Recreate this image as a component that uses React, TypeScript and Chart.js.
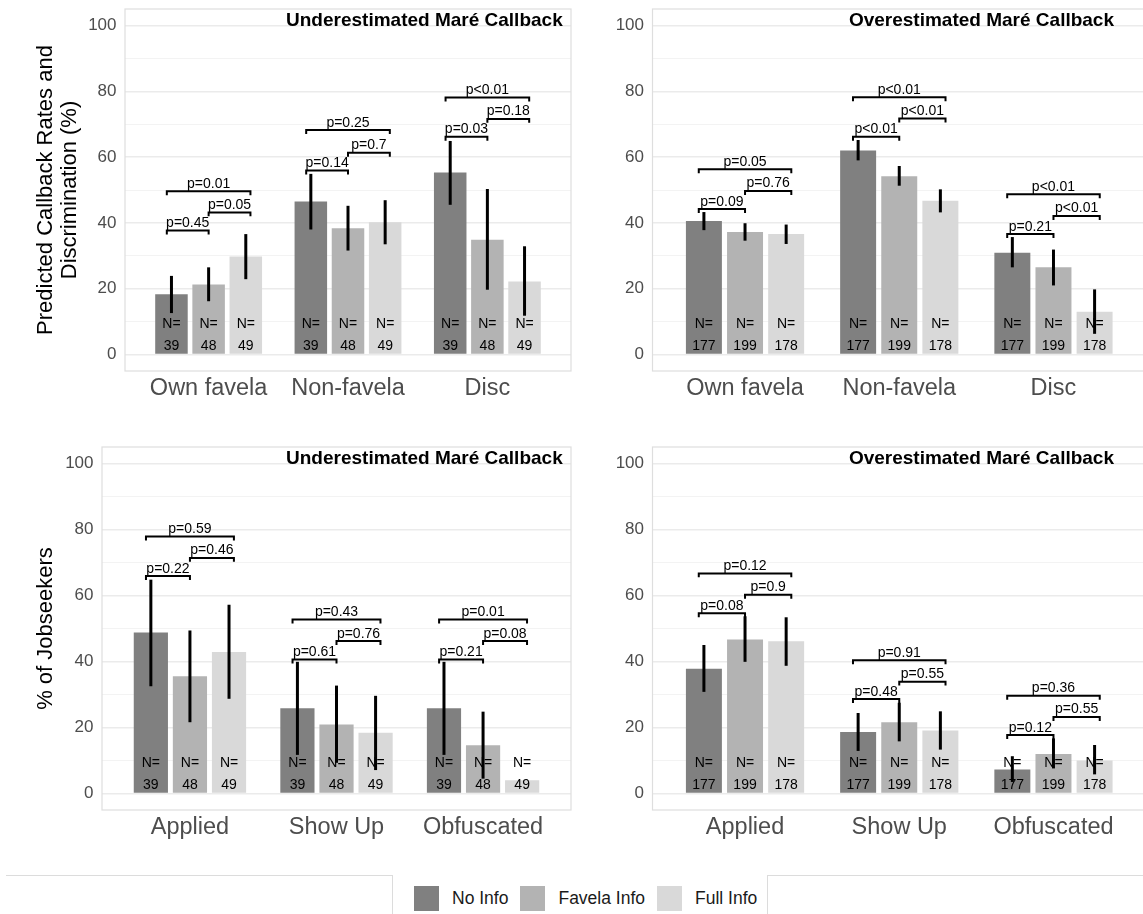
import React, { useEffect, useRef } from 'react';
import { Chart, registerables } from 'chart.js';

Chart.register(...registerables);

// ---------- shared data ----------
const SERIES = ['No Info', 'Favela Info', 'Full Info'];
const SERIES_COLORS = ['#808080', '#B3B3B3', '#D9D9D9'];
const CALLBACK_CATEGORIES = ['Own favela', 'Non-favela', 'Disc'];
const JOBSEEKER_CATEGORIES = ['Applied', 'Show Up', 'Obfuscated'];
const Y_GRID_VALUES = [0, 10, 20, 30, 40, 50, 60, 70, 80, 90, 100];
const Y_TICK_LABELS = [0, 20, 40, 60, 80, 100];
const BRACKET_PAIRS = [[0, 1], [1, 2], [0, 2]];
const UNDER_N = [39, 48, 49];
const OVER_N = [177, 199, 178];

// ---------- top-left: Underestimated, callback ----------
const UNDER_CALLBACK_MEAN = [
  [18.3, 46.5, 55.3],
  [21.3, 38.4, 34.9],
  [29.8, 40.2, 22.2],
];
const UNDER_CALLBACK_LOW = [
  [12.6, 38.0, 45.5],
  [16.2, 31.6, 19.7],
  [22.9, 33.5, 11.8],
];
const UNDER_CALLBACK_HIGH = [
  [23.9, 54.9, 64.9],
  [26.5, 45.2, 50.3],
  [36.6, 46.9, 32.9],
];
const UNDER_CALLBACK_P = [
  ['p=0.45', 'p=0.05', 'p=0.01'],
  ['p=0.14', 'p=0.7', 'p=0.25'],
  ['p=0.03', 'p=0.18', 'p<0.01'],
];
const UNDER_CALLBACK_P_Y = [
  [37.7, 43.2, 49.6],
  [55.9, 61.3, 68.2],
  [66.2, 71.6, 78.1],
];

// ---------- top-right: Overestimated, callback ----------
const OVER_CALLBACK_MEAN = [
  [40.6, 62.0, 30.9],
  [37.2, 54.2, 26.5],
  [36.6, 46.7, 13.0],
];
const OVER_CALLBACK_LOW = [
  [37.8, 59.0, 26.5],
  [34.6, 51.3, 21.0],
  [33.6, 43.2, 6.3],
];
const OVER_CALLBACK_HIGH = [
  [43.3, 65.2, 35.7],
  [39.9, 57.3, 31.9],
  [39.5, 50.2, 19.8],
];
const OVER_CALLBACK_P = [
  ['p=0.09', 'p=0.76', 'p=0.05'],
  ['p<0.01', 'p<0.01', 'p<0.01'],
  ['p=0.21', 'p<0.01', 'p<0.01'],
];
const OVER_CALLBACK_P_Y = [
  [44.2, 49.7, 56.3],
  [66.2, 71.7, 78.2],
  [36.6, 42.1, 48.7],
];

// ---------- bottom-left: Underestimated, jobseekers ----------
const UNDER_JOB_MEAN = [
  [48.8, 25.8, 25.8],
  [35.5, 20.9, 14.6],
  [42.9, 18.4, 4.0],
];
const UNDER_JOB_LOW = [
  [32.5, 11.7, 11.7],
  [21.6, 9.3, 4.5],
  [28.7, 7.1, null],
];
const UNDER_JOB_HIGH = [
  [64.8, 39.9, 39.9],
  [49.4, 32.7, 24.8],
  [57.2, 29.6, null],
];
const UNDER_JOB_P = [
  ['p=0.22', 'p=0.46', 'p=0.59'],
  ['p=0.61', 'p=0.76', 'p=0.43'],
  ['p=0.21', 'p=0.08', 'p=0.01'],
];
const UNDER_JOB_P_Y = [
  [65.9, 71.4, 77.9],
  [40.6, 46.2, 52.7],
  [40.6, 46.2, 52.7],
];

// ---------- bottom-right: Overestimated, jobseekers ----------
const OVER_JOB_MEAN = [
  [37.8, 18.6, 7.3],
  [46.7, 21.6, 12.0],
  [46.1, 19.1, 10.0],
];
const OVER_JOB_LOW = [
  [30.8, 12.9, 3.5],
  [39.9, 15.8, 7.6],
  [38.7, 13.3, 5.8],
];
const OVER_JOB_HIGH = [
  [45.0, 24.4, 11.3],
  [53.7, 27.5, 16.7],
  [53.4, 24.9, 14.7],
];
const OVER_JOB_P = [
  ['p=0.08', 'p=0.9', 'p=0.12'],
  ['p=0.48', 'p=0.55', 'p=0.91'],
  ['p=0.12', 'p=0.55', 'p=0.36'],
];
const OVER_JOB_P_Y = [
  [54.6, 60.2, 66.7],
  [28.6, 33.9, 40.4],
  [17.7, 23.2, 29.6],
];

// ---------- style constants ----------
const FONT = '"Liberation Sans", Arial, Helvetica, sans-serif';
const BRACKET_OFFSETS = [-0.3, 0, 0.3];
const BRACKET_TIP = 1.2;
const N_LABEL_Y = 9.1;
const N_VALUE_Y = 2.6;

type PanelDef = {
  cats: string[];
  mean: number[][];
  low: (number | null)[][];
  high: (number | null)[][];
  n: number[];
  pLabels: string[][];
  pY: number[][];
  title: string;
  titleRightOffset: number;
  yTitle: string[] | null;
  canvas: { left: number; top: number; width: number; height: number };
  area: { left: number; top: number; right: number; bottom: number };
};

const PANELS: PanelDef[] = [
  {
    cats: CALLBACK_CATEGORIES,
    mean: UNDER_CALLBACK_MEAN,
    low: UNDER_CALLBACK_LOW,
    high: UNDER_CALLBACK_HIGH,
    n: UNDER_N,
    pLabels: UNDER_CALLBACK_P,
    pY: UNDER_CALLBACK_P_Y,
    title: 'Underestimated Maré Callback',
    titleRightOffset: 8.3,
    yTitle: ['Predicted Callback Rates and', 'Discrimination (%)'],
    canvas: { left: 0, top: 0, width: 580, height: 420 },
    area: { left: 125, top: 9, right: 571, bottom: 371 },
  },
  {
    cats: CALLBACK_CATEGORIES,
    mean: OVER_CALLBACK_MEAN,
    low: OVER_CALLBACK_LOW,
    high: OVER_CALLBACK_HIGH,
    n: OVER_N,
    pLabels: OVER_CALLBACK_P,
    pY: OVER_CALLBACK_P_Y,
    title: 'Overestimated Maré Callback',
    titleRightOffset: 32,
    yTitle: null,
    canvas: { left: 580, top: 0, width: 575, height: 420 },
    area: { left: 652.5, top: 9, right: 1146, bottom: 371 },
  },
  {
    cats: JOBSEEKER_CATEGORIES,
    mean: UNDER_JOB_MEAN,
    low: UNDER_JOB_LOW,
    high: UNDER_JOB_HIGH,
    n: UNDER_N,
    pLabels: UNDER_JOB_P,
    pY: UNDER_JOB_P_Y,
    title: 'Underestimated Maré Callback',
    titleRightOffset: 8.3,
    yTitle: ['% of Jobseekers'],
    canvas: { left: 0, top: 430, width: 580, height: 420 },
    area: { left: 102, top: 447, right: 571, bottom: 810 },
  },
  {
    cats: JOBSEEKER_CATEGORIES,
    mean: OVER_JOB_MEAN,
    low: OVER_JOB_LOW,
    high: OVER_JOB_HIGH,
    n: OVER_N,
    pLabels: OVER_JOB_P,
    pY: OVER_JOB_P_Y,
    title: 'Overestimated Maré Callback',
    titleRightOffset: 32,
    yTitle: null,
    canvas: { left: 580, top: 430, width: 575, height: 420 },
    area: { left: 652.5, top: 447, right: 1146, bottom: 810 },
  },
];

function makeOverlay(p: PanelDef) {
  return {
    id: 'overlay',
    afterDatasetsDraw(chart: any) {
      const { ctx, chartArea } = chart;
      const xs = chart.scales.x;
      const ys = chart.scales.y;
      ctx.save();
      // N labels
      ctx.fillStyle = '#000000';
      ctx.font = `14px ${FONT}`;
      ctx.textAlign = 'center';
      ctx.textBaseline = 'middle';
      SERIES.forEach((_, s) => {
        const meta = chart.getDatasetMeta(s);
        p.cats.forEach((__, i) => {
          const bar = meta.data[i];
          ctx.fillText('N=', bar.x, ys.getPixelForValue(N_LABEL_Y));
          ctx.fillText(String(p.n[s]), bar.x, ys.getPixelForValue(N_VALUE_Y));
        });
      });
      // error bars
      ctx.strokeStyle = '#000000';
      ctx.lineWidth = 3;
      ctx.lineCap = 'butt';
      SERIES.forEach((_, s) => {
        const meta = chart.getDatasetMeta(s);
        p.cats.forEach((__, i) => {
          const lo = p.low[s][i];
          const hi = p.high[s][i];
          if (lo == null || hi == null) return;
          const bar = meta.data[i];
          ctx.beginPath();
          ctx.moveTo(bar.x, ys.getPixelForValue(lo));
          ctx.lineTo(bar.x, ys.getPixelForValue(hi));
          ctx.stroke();
        });
      });
      // significance brackets
      ctx.lineWidth = 2;
      ctx.lineJoin = 'miter';
      ctx.textBaseline = 'alphabetic';
      p.cats.forEach((_, i) => {
        BRACKET_PAIRS.forEach(([a, b], k) => {
          const level = p.pY[i][k];
          const x1 = xs.getPixelForValue(i + BRACKET_OFFSETS[a]);
          const x2 = xs.getPixelForValue(i + BRACKET_OFFSETS[b]);
          const yy = ys.getPixelForValue(level);
          const yt = ys.getPixelForValue(level - BRACKET_TIP);
          ctx.beginPath();
          ctx.moveTo(x1, yt);
          ctx.lineTo(x1, yy);
          ctx.lineTo(x2, yy);
          ctx.lineTo(x2, yt);
          ctx.stroke();
          ctx.fillText(p.pLabels[i][k], (x1 + x2) / 2, yy - 3.5);
        });
      });
      // panel title
      ctx.font = `bold 19px ${FONT}`;
      ctx.textAlign = 'right';
      ctx.textBaseline = 'middle';
      ctx.fillText(p.title, chartArea.right - p.titleRightOffset, chartArea.top + 11.5);
      // panel border
      ctx.strokeStyle = '#DEDEDE';
      ctx.lineWidth = 1.2;
      ctx.strokeRect(chartArea.left, chartArea.top, chartArea.right - chartArea.left, chartArea.bottom - chartArea.top);
      ctx.restore();
    },
  };
}

function Panel({ p }: { p: PanelDef }) {
  const ref = useRef<HTMLCanvasElement | null>(null);
  useEffect(() => {
    if (!ref.current) return;
    const c = p.canvas;
    const a = p.area;
    const yAxisW = a.left - c.left;
    const xAxisH = c.top + c.height - a.bottom;
    const chart = new Chart(ref.current, {
      type: 'bar',
      data: {
        datasets: SERIES.map((name, s) => ({
          label: name,
          data: p.cats.map((_, i) => ({ x: i, y: p.mean[s][i] })),
          backgroundColor: SERIES_COLORS[s],
          borderWidth: 0,
          categoryPercentage: 0.8,
          barPercentage: 0.875,
        })),
      },
      options: {
        responsive: false,
        animation: false,
        events: [],
        layout: {
          padding: { left: 0, top: a.top - c.top, right: c.left + c.width - a.right, bottom: 0 },
        },
        plugins: {
          legend: { display: false },
          title: { display: false },
          tooltip: { enabled: false },
        },
        scales: {
          x: {
            type: 'linear',
            min: -0.6,
            max: 2.6,
            offset: false,
            grid: { display: false, drawTicks: false, offset: false },
            border: { display: false },
            afterBuildTicks: (s: any) => {
              s.ticks = p.cats.map((_, i) => ({ value: i }));
            },
            afterFit: (s: any) => {
              s.height = xAxisH;
              s.paddingLeft = 0;
              s.paddingRight = 0;
              s.paddingTop = 0;
              s.paddingBottom = 0;
            },
            ticks: {
              autoSkip: false,
              maxRotation: 0,
              minRotation: 0,
              padding: 3.5,
              color: '#4D4D4D',
              font: { family: FONT, size: 23.5 },
              callback: (v: any) => p.cats[Math.round(Number(v))] ?? '',
            },
          },
          y: {
            type: 'linear',
            min: -5,
            max: 105,
            grid: {
              drawTicks: false,
              color: (ctx: any) => (ctx.tick && ctx.tick.value % 20 === 0 ? '#EBEBEB' : '#F3F3F3'),
              lineWidth: (ctx: any) => (ctx.tick && ctx.tick.value % 20 === 0 ? 1.4 : 1),
            },
            border: { display: false },
            afterBuildTicks: (s: any) => {
              s.ticks = Y_GRID_VALUES.map((v) => ({ value: v }));
            },
            afterFit: (s: any) => {
              s.width = yAxisW;
              s.paddingLeft = 0;
              s.paddingRight = 0;
              s.paddingTop = 0;
              s.paddingBottom = 0;
            },
            ticks: {
              autoSkip: false,
              padding: 8.5,
              color: '#4D4D4D',
              font: { family: FONT, size: 17 },
              callback: (v: any) => (Y_TICK_LABELS.includes(Number(v)) ? String(v) : ''),
            },
            title: {
              display: !!p.yTitle,
              text: p.yTitle || '',
              color: '#000000',
              font: { family: FONT, size: 22, lineHeight: 1.1 },
              padding: { top: 33.6, bottom: 0 },
            },
          },
        },
      },
      plugins: [makeOverlay(p)],
    } as any);
    return () => chart.destroy();
  }, [p]);
  const c = p.canvas;
  return (
    <canvas
      ref={ref}
      width={c.width}
      height={c.height}
      style={{ position: 'absolute', left: c.left, top: c.top, width: c.width, height: c.height }}
    />
  );
}

function Legend() {
  const lineColor = '#DCDCDC';
  return (
    <>
      <div style={{ position: 'absolute', left: 6, top: 875, width: 386, height: 0, borderTop: `1px solid ${lineColor}` }} />
      <div style={{ position: 'absolute', left: 392, top: 875, width: 0, height: 40, borderLeft: `1px solid ${lineColor}` }} />
      <div style={{ position: 'absolute', left: 767, top: 875, width: 0, height: 40, borderLeft: `1px solid ${lineColor}` }} />
      <div style={{ position: 'absolute', left: 767, top: 875, width: 380, height: 0, borderTop: `1px solid ${lineColor}` }} />
      <div
        style={{
          position: 'absolute',
          left: 414,
          top: 886,
          height: 25,
          display: 'flex',
          alignItems: 'center',
          fontFamily: FONT,
          fontSize: 17.5,
          color: '#1A1A1A',
          whiteSpace: 'nowrap',
        }}
      >
        {SERIES.map((name, s) => (
          <div key={name} style={{ display: 'flex', alignItems: 'center', marginRight: 12 }}>
            <div style={{ width: 25, height: 25, background: SERIES_COLORS[s], marginRight: 13 }} />
            <span>{name}</span>
          </div>
        ))}
      </div>
    </>
  );
}

export default function App() {
  return (
    <div
      style={{
        position: 'fixed',
        left: 0,
        top: 0,
        width: 1143,
        height: 914,
        overflow: 'hidden',
        background: '#FFFFFF',
      }}
    >
      {PANELS.map((p, i) => (
        <Panel key={i} p={p} />
      ))}
      <Legend />
    </div>
  );
}
